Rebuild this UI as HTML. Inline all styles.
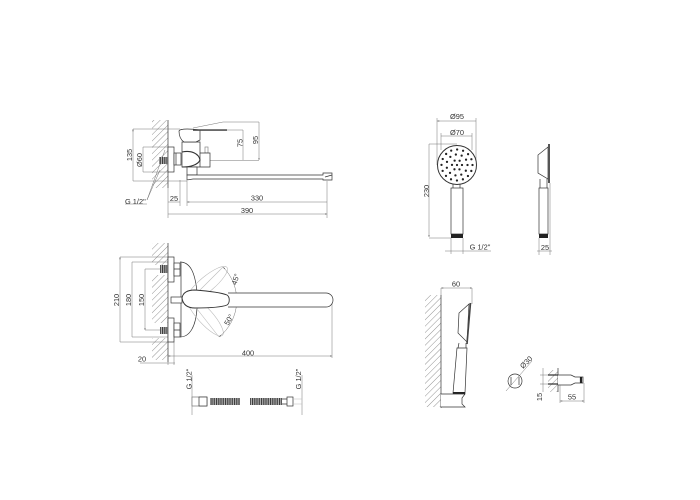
<!DOCTYPE html>
<html><head><meta charset="utf-8"><style>
html,body{margin:0;padding:0;background:#fff}
svg{display:block}
text{font-family:"Liberation Sans",sans-serif;font-size:7.4px;fill:#333}
.o{fill:none;stroke:#333;stroke-width:.7}
.w{fill:#fff;stroke:#333;stroke-width:.7}
.d{fill:none;stroke:#666;stroke-width:.45}
.g{fill:none;stroke:#bbb;stroke-width:.6}
</style></head><body>
<svg width="700" height="500" viewBox="0 0 700 500" xmlns="http://www.w3.org/2000/svg">
<defs>
<pattern id="h" width="4.5" height="4.5" patternUnits="userSpaceOnUse" patternTransform="rotate(45)"><line x1="0" y1="0" x2="0" y2="4.5" stroke="#888" stroke-width=".9"/></pattern>
<pattern id="t" width="1.8" height="4" patternUnits="userSpaceOnUse"><rect width="1.8" height="4" fill="#ccc"/><rect width="1" height="4" fill="#333"/></pattern>
<marker id="a" markerWidth="6" markerHeight="4" refX="5" refY="2" orient="auto-start-reverse"><path d="M0 .8L5 2L0 3.2z" fill="#444"/></marker>
</defs>

<!-- top faucet -->
<rect x="152" y="120" width="16" height="68" fill="url(#h)"/>
<line x1="168" y1="120" x2="168" y2="188" class="o"/>
<g class="d">
<path d="M133 129H180M133 181H187M143 147H168M143 172H168M193 128L223 122H259M227 130H243M210 160.5H259"/>
<path d="M133 129V181M143 147V172M243 130V160M259 122V160" marker-start="url(#a)" marker-end="url(#a)"/>
<path d="M168 188V218M180 180V206M187 181V206M327 181V218"/>
<path d="M187 202H327M168 214H327" marker-start="url(#a)" marker-end="url(#a)"/>
<path d="M168 202H180"/>
<path d="M147 200L165 150M147 200L160 170M125 204H147"/>
</g>
<rect x="159" y="157" width="9" height="7" fill="url(#t)"/>
<rect x="168" y="147" width="6" height="25" class="w"/>
<rect x="174" y="153" width="7" height="12" class="w"/>
<path d="M176 153V165" class="o"/>
<rect x="205" y="147" width="3" height="6" class="w" style="stroke:#888"/>
<path d="M182 142H200V153H210V167H182Z" class="w"/>
<path d="M200 153V167" class="o"/>
<path d="M182 152C192 150 199 154 200 160C198 165 190 167 182 167" class="o" style="stroke-width:1.1"/>
<path d="M179 131C180 128 193 129 200 130V140L196 142H184C181 140 179 136 179 131Z" class="w"/>
<rect x="193" y="129.3" width="34" height="1.5" fill="#444"/>
<path d="M187 167H197V175H187Z" class="w"/>
<path d="M187 175H323L323 173H332V180H323V179H193L187 180Z" class="w"/>
<path d="M325 177L332 175" class="o"/>
<text x="132" y="155" text-anchor="middle" transform="rotate(-90 132 155)">135</text>
<text x="142" y="160" text-anchor="middle" transform="rotate(-90 142 160)">Ø60</text>
<text x="242.5" y="143" text-anchor="middle" transform="rotate(-90 242.5 143)">75</text>
<text x="258" y="140" text-anchor="middle" transform="rotate(-90 258 140)">95</text>
<text x="125" y="204">G 1/2"</text>
<text x="174" y="201" text-anchor="middle">25</text>
<text x="257" y="200.7" text-anchor="middle">330</text>
<text x="247" y="213" text-anchor="middle">390</text>

<!-- plan faucet -->
<rect x="152" y="243" width="16" height="22" fill="url(#h)"/>
<rect x="152" y="275" width="16" height="48" fill="url(#h)"/>
<rect x="152" y="338" width="16" height="22" fill="url(#h)"/>
<line x1="168" y1="243" x2="168" y2="362" class="o"/>
<g class="d">
<path d="M120 257H168M132 262H170M145 269H180M120 342H168M132 337H170M145 330H180M140 363H175M332 300V358M168 342V365M174 342V365"/>
<path d="M120 257V342M132 262V337M145 269V330" marker-start="url(#a)" marker-end="url(#a)"/>
<path d="M168 356H332" marker-start="url(#a)" marker-end="url(#a)"/>
</g>
<rect x="160" y="265" width="8" height="8" fill="url(#t)"/>
<rect x="160" y="327" width="8" height="7" fill="url(#t)"/>
<rect x="168" y="257" width="6" height="25" class="w"/>
<rect x="168" y="318" width="6" height="24" class="w"/>
<rect x="174" y="263" width="6" height="13" class="w"/>
<rect x="174" y="323" width="6" height="14" class="w"/>
<path d="M174 269H180M174 330H180" class="o"/>
<path d="M181 262V337M180 262C190 262 195 272 197 292M180 337C190 337 196 326 197 308" class="o"/>
<g class="g">
<ellipse cx="207" cy="284" rx="26" ry="7.5" transform="rotate(-40 207 284)"/>
<ellipse cx="205" cy="316" rx="26" ry="7.5" transform="rotate(48 205 316)"/>
</g>
<path d="M223 267A47 47 0 0 1 219 337" class="d" marker-start="url(#a)" marker-end="url(#a)"/>
<path d="M190 300L223 267M190 300L219 337" class="g"/>
<rect x="171" y="297" width="11" height="6" class="w"/>
<path d="M228 293H326A7 7 0 0 1 326 307H228" class="w"/>
<path d="M182 298C183 292 188 290 195 290C208 291 222 293 227 295C230 297 230 303 227 305C222 307 208 308 195 308C188 308 183 305 182 298Z" class="w" style="stroke-width:.9"/>
<text x="119" y="300" text-anchor="middle" transform="rotate(-90 119 300)">210</text>
<text x="131" y="300" text-anchor="middle" transform="rotate(-90 131 300)">180</text>
<text x="144" y="300" text-anchor="middle" transform="rotate(-90 144 300)">150</text>
<text x="238" y="280" text-anchor="middle" transform="rotate(-72 238 280)">45°</text>
<text x="231" y="321" text-anchor="middle" transform="rotate(-60 231 321)">50°</text>
<text x="248" y="355.5" text-anchor="middle">400</text>
<text x="142" y="361.7" text-anchor="middle">20</text>

<!-- hose -->
<g class="d"><path d="M192 375V415M302 375V415"/></g>
<rect x="192" y="397" width="15" height="9" class="w" style="stroke:#777"/>
<rect x="199" y="397" width="8" height="9" class="w"/>
<rect x="210" y="398" width="30" height="7" fill="url(#t)"/>
<rect x="250" y="398" width="32" height="7" fill="url(#t)"/>
<path d="M282 399H287M282 404H287" class="o"/>
<rect x="287" y="397" width="6" height="9" class="w"/>
<path d="M293 399H302M293 404H302" class="g"/>
<text x="191.5" y="379" text-anchor="middle" transform="rotate(-90 191.5 379)">G 1/2"</text>
<text x="301" y="379" text-anchor="middle" transform="rotate(-90 301 379)">G 1/2"</text>

<!-- shower front -->
<g class="d">
<path d="M437 118V165M476 118V165M441 133V150M472 133V150M429 144H457M429 238H451M451 238V254M463 238V254"/>
<path d="M437 121H476M441 136H472M429 144V237" marker-start="url(#a)" marker-end="url(#a)"/>
<path d="M445 251H491"/>
</g>
<circle cx="457" cy="165" r="19.5" class="w" style="stroke-width:1"/>
<g fill="none" stroke="#222" stroke-width="2.3" stroke-linecap="round">
<circle cx="457" cy="165" r="15.5" stroke-dasharray="0 6.09"/>
<circle cx="457" cy="165" r="10.5" stroke-dasharray="0 5.997"/>
<circle cx="457" cy="165" r="5" stroke-dasharray="0 5.236"/>
</g>
<circle cx="457" cy="165" r="1.1" fill="#222"/>
<path d="M453 184V188M460 184V188" class="o"/>
<rect x="451" y="188" width="12" height="46" class="w"/>
<rect x="451" y="234" width="12" height="4" fill="#222"/>
<text x="457" y="119" text-anchor="middle">Ø95</text>
<text x="457" y="135" text-anchor="middle">Ø70</text>
<text x="429" y="191" text-anchor="middle" transform="rotate(-90 429 191)">230</text>
<text x="480" y="249.5" text-anchor="middle">G 1/2"</text>

<!-- shower side -->
<path d="M548 147L538 155V173L548 179Z" class="w"/>
<rect x="548" y="144" width="2" height="39" fill="#555"/>
<path d="M540 179V188M547 179V188" class="o"/>
<rect x="539" y="188" width="9" height="46" class="w"/>
<rect x="539" y="234" width="9" height="4" fill="#222"/>
<path d="M539 238V255M550 183V255M537 251H552" class="d"/>
<text x="545" y="250" text-anchor="middle">25</text>

<!-- shower on wall -->
<rect x="425" y="295" width="16" height="112" fill="url(#h)"/>
<line x1="441" y1="295" x2="441" y2="408" class="o"/>
<path d="M441 288V296M472 288V304" class="d"/>
<path d="M441 288H472" class="d" marker-start="url(#a)" marker-end="url(#a)"/>
<path d="M469 304L459 313L458 333L467 342Z" class="w"/>
<path d="M470.5 303L467 344" stroke="#444" stroke-width="1.6" fill="none"/>
<path d="M457 348H467L465 393H453Z" class="w"/>
<rect x="453" y="392" width="12" height="3" fill="#222"/>
<path d="M459 343L458 348M466 343V348" class="o"/>
<path d="M441 394H465L462 398V404L465 407H441" class="w"/>
<text x="456" y="286.7" text-anchor="middle">60</text>

<!-- holder -->
<circle cx="515" cy="381" r="7" class="w"/>
<path d="M511 377V385M519 377V385" class="o"/>
<path d="M506 391L532 361" class="d"/>
<text x="528" y="364" text-anchor="middle" transform="rotate(-45 528 364)">Ø30</text>
<rect x="548" y="370" width="10" height="22" fill="url(#h)"/>
<line x1="558" y1="368" x2="558" y2="392" class="o"/>
<path d="M548 375H558M548 384H558" stroke="#333" stroke-width="1.2"/>
<path d="M558 375H571L575 377H583V383H575L571 385H558" class="w"/>
<path d="M581 377V383" stroke="#222" stroke-width="2.2"/>
<path d="M543 368V392M540 375H548M540 384H548" class="d"/>
<path d="M560 385V403M584 383V403" class="d"/>
<path d="M560 401H584" class="d" marker-start="url(#a)" marker-end="url(#a)"/>
<text x="542" y="397" text-anchor="middle" transform="rotate(-90 542 397)">15</text>
<text x="572" y="399.5" text-anchor="middle">55</text>
</svg>
</body></html>
